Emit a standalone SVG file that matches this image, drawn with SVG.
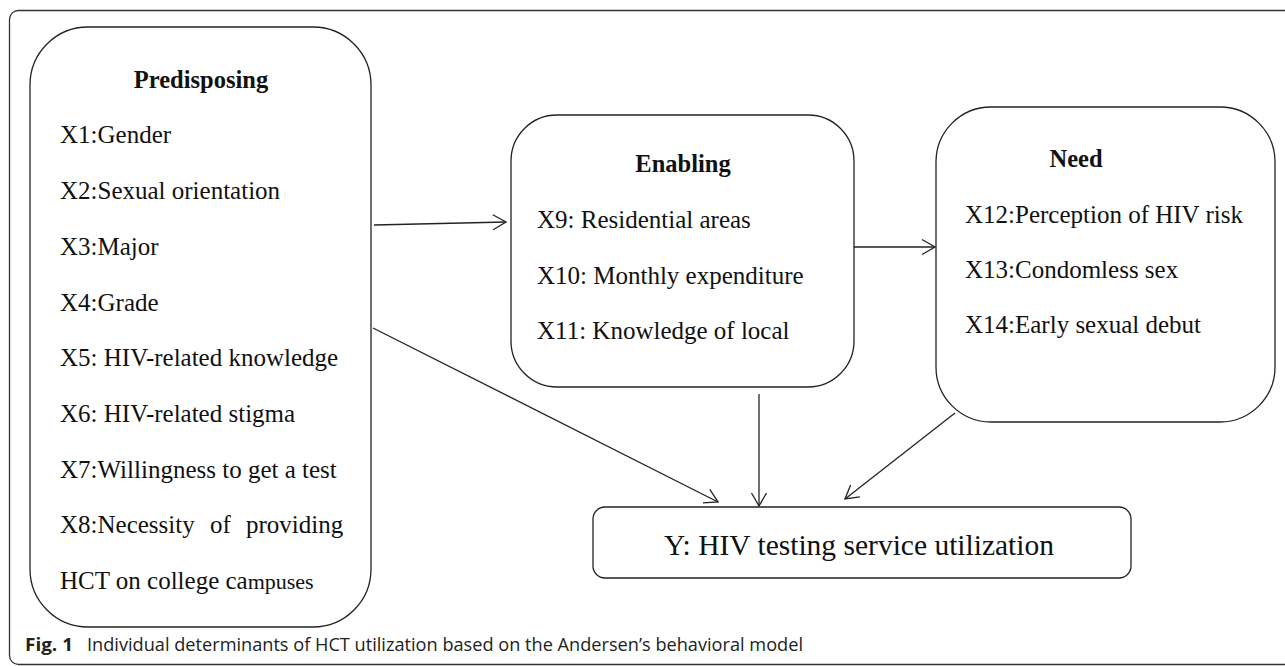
<svg xmlns="http://www.w3.org/2000/svg" width="1285" height="666" viewBox="0 0 1285 666">
<style>
.box{fill:#fff;stroke:#222;stroke-width:1.3}
.t{font-family:"Liberation Serif","Times New Roman",serif;font-size:25px;fill:#111}
.h{font-family:"Liberation Serif","Times New Roman",serif;font-size:24.5px;font-weight:bold;fill:#111;text-anchor:middle}
.c{stroke:#222;stroke-width:1.3;fill:none}
.cap{font-family:"Open Sans","Noto Sans",sans-serif;font-size:18px;fill:#222}
</style>
<defs>
<marker id="arr" viewBox="-15 -10 17 20" refX="0" refY="0" markerWidth="17" markerHeight="20" markerUnits="userSpaceOnUse" orient="auto">
<path d="M-13,-7.5 L0,0 L-13,7.5" fill="none" stroke="#222" stroke-width="1.3"/>
</marker>
</defs>
<rect id="frame" x="9.5" y="10.5" width="1400" height="654" rx="9" fill="none" stroke="#333" stroke-width="1.3"/>
<g id="predisposing">
<rect class="box" x="30" y="27" width="341" height="600" rx="58"/>
<text class="h" x="201" y="88">Predisposing</text>
<text class="t" x="60" y="143">X1:Gender</text>
<text class="t" x="60" y="199">X2:Sexual orientation</text>
<text class="t" x="60" y="255">X3:Major</text>
<text class="t" x="60" y="311">X4:Grade</text>
<text class="t" x="60" y="366">X5: HIV-related knowledge</text>
<text class="t" x="60" y="422">X6: HIV-related stigma</text>
<text class="t" x="60" y="478">X7:Willingness to get a test</text>
<text class="t" x="60" y="533" word-spacing="9">X8:Necessity of providing</text>
<text class="t" x="60" y="589">HCT on college ca<tspan font-size="22px">mpuses</tspan></text>
</g>
<g id="enabling">
<rect class="box" x="511" y="115" width="343" height="272" rx="46"/>
<text class="h" x="683" y="172">Enabling</text>
<text class="t" x="537" y="228">X9: Residential areas</text>
<text class="t" x="537" y="284">X10: Monthly expenditure</text>
<text class="t" x="537" y="339">X11: Knowledge of local</text>
</g>
<g id="need">
<rect class="box" x="936" y="107" width="339" height="315" rx="55"/>
<text class="h" x="1076" y="167">Need</text>
<text class="t" x="965" y="223">X12:Perception of HIV risk</text>
<text class="t" x="965" y="278">X13:Condomless sex</text>
<text class="t" x="965" y="333">X14:Early sexual debut</text>
</g>
<g id="outcome">
<rect class="box" x="593" y="507" width="538" height="71" rx="12"/>
<text class="t" x="859" y="555" text-anchor="middle" style="font-size:29.5px">Y: HIV testing service utilization</text>
</g>
<g id="connectors">
<line class="c" x1="374" y1="225" x2="506" y2="222" marker-end="url(#arr)"/>
<line class="c" x1="854" y1="247" x2="935" y2="247" marker-end="url(#arr)"/>
<line class="c" x1="373" y1="328" x2="718" y2="502" marker-end="url(#arr)"/>
<line class="c" x1="759" y1="394" x2="759" y2="506" marker-end="url(#arr)"/>
<line class="c" x1="955" y1="413" x2="845" y2="499" marker-end="url(#arr)"/>
</g>
<g id="caption">
<text class="cap" x="25" y="651" font-weight="bold" textLength="48" lengthAdjust="spacingAndGlyphs">Fig. 1</text>
<text class="cap" x="87" y="651" textLength="716" lengthAdjust="spacingAndGlyphs">Individual determinants of HCT utilization based on the Andersen’s behavioral model</text>
</g>
</svg>
